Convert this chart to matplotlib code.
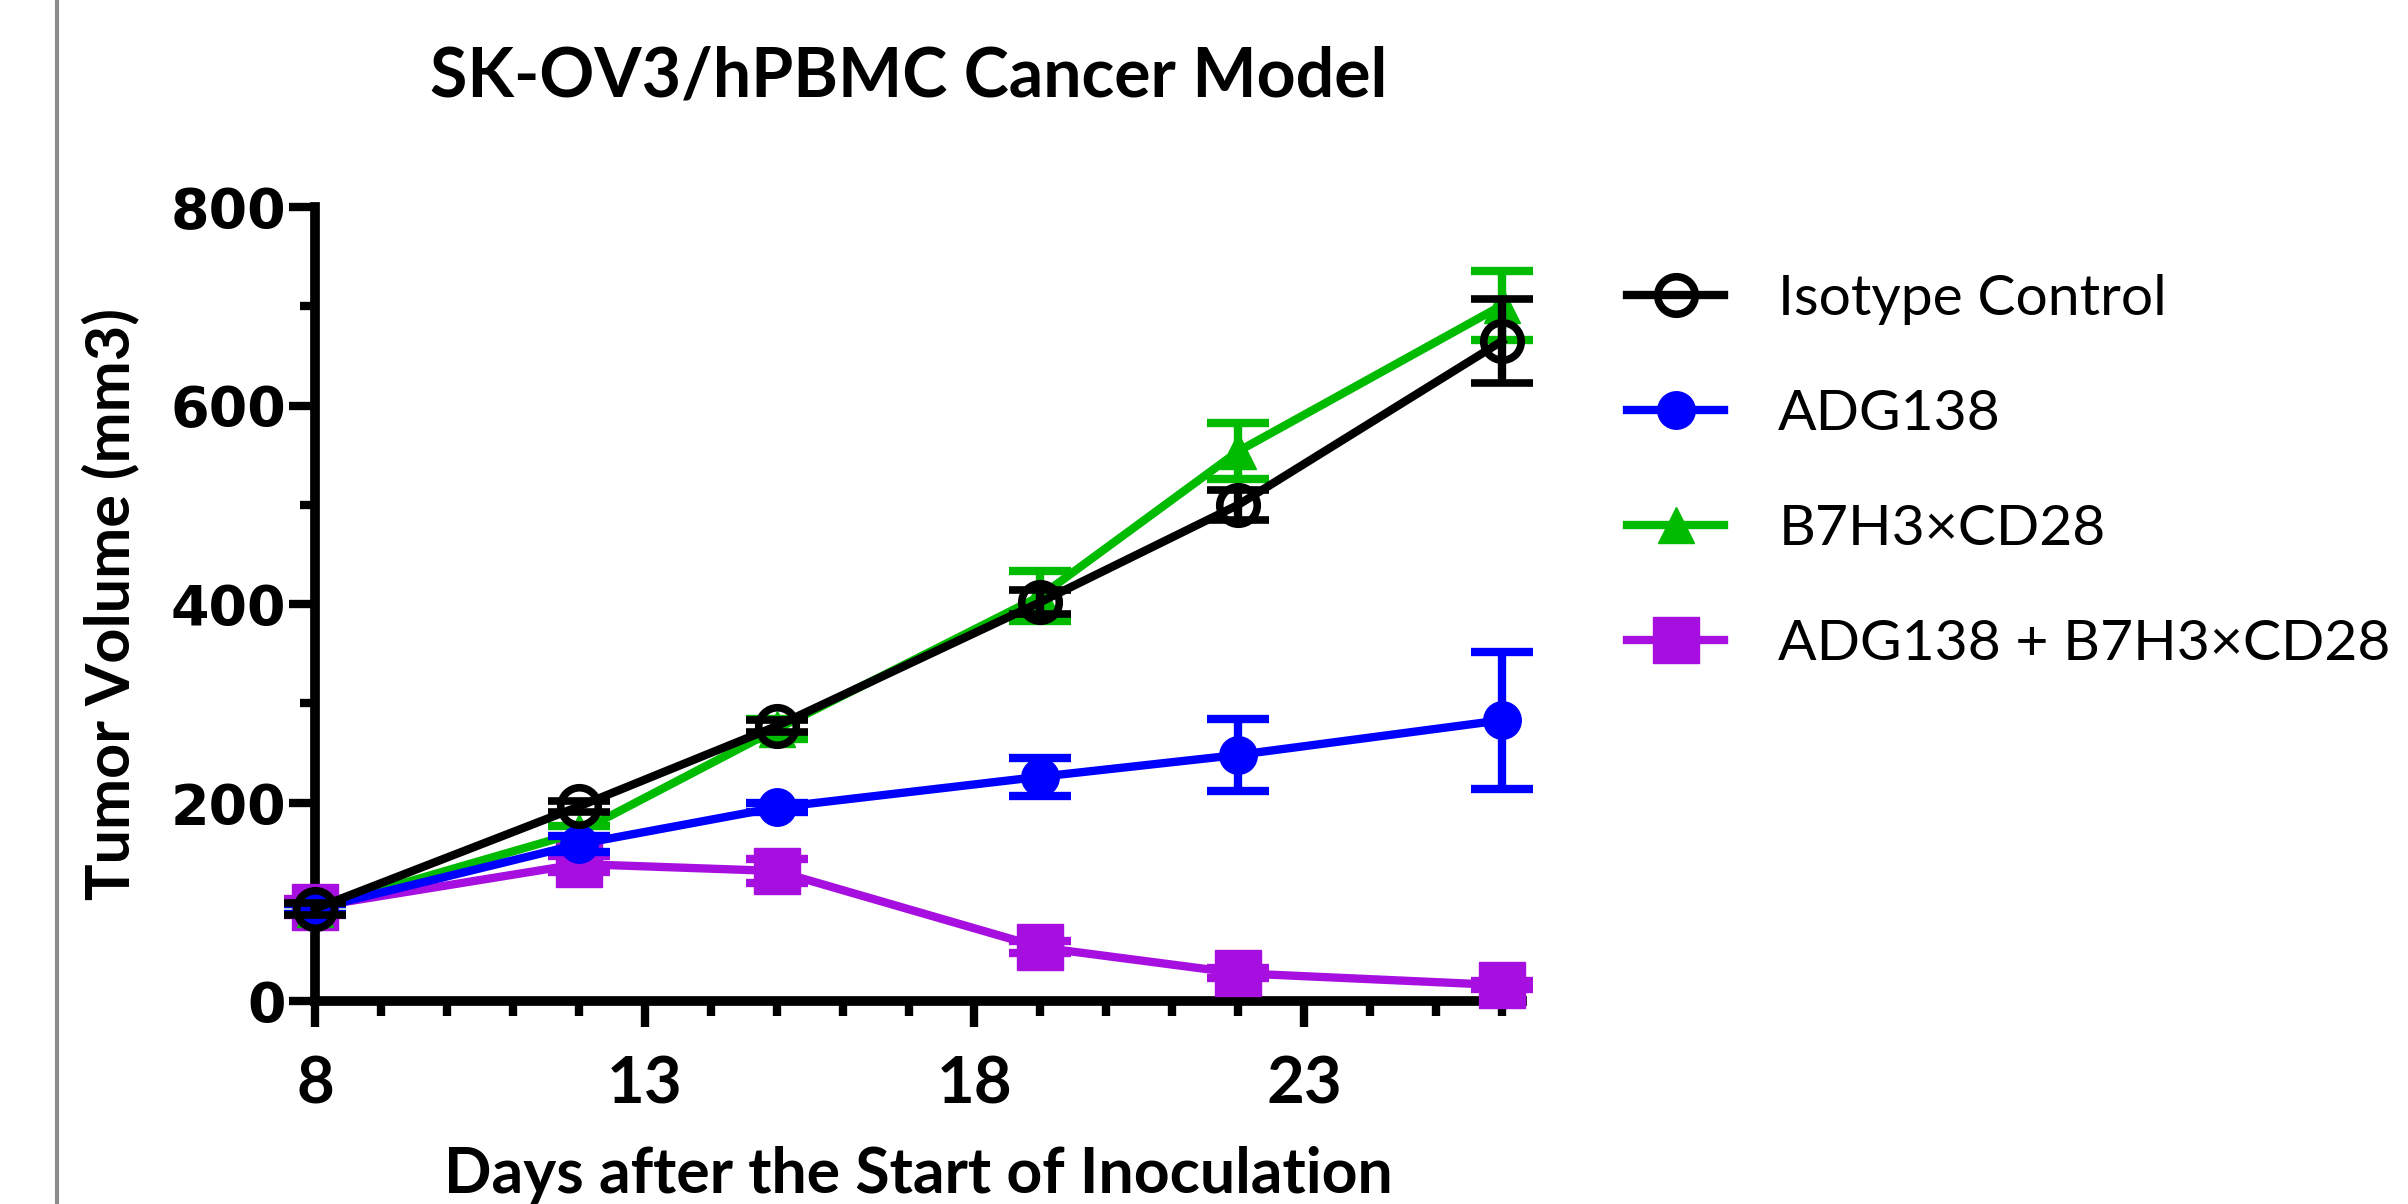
import matplotlib.pyplot as plt
from matplotlib.lines import Line2D
from matplotlib.ticker import MultipleLocator, FixedLocator

days = [8, 12, 15, 19, 22, 26]

isotype = [93, 196, 277, 402, 500, 665]
isotype_err = [6, 6, 6, 12, 15, 42]
adg138 = [93, 158, 195, 226, 248, 283]
adg138_err = [5, 8, 5, 19, 36, 69]
b7h3 = [93, 170, 274, 408, 554, 701]
b7h3_err = [5, 6, 10, 25, 28, 35]
combo = [95, 138, 131, 54, 28, 16]
combo_err = [8, 8, 12, 6, 5, 4]

x_ticks = [8, 13, 18, 23]
labels = ["Isotype Control", "ADG138", "B7H3\u00d7CD28", "ADG138 + B7H3\u00d7CD28"]

fig = plt.figure(figsize=(24.08, 12.04), dpi=100)
ax = fig.add_axes([0.1308, 0.1686, 0.632 - 0.1308, 0.828 - 0.1686])

lw = 6
common = dict(linewidth=lw, elinewidth=lw, capsize=22, capthick=lw, clip_on=False)

styles = [
    dict(color="black", marker="o", markersize=27, markerfacecolor="none", markeredgewidth=5.5),
    dict(color="#0000ff", marker="o", markersize=27),
    dict(color="#00bb00", marker="^", markersize=26),
    dict(color="#a60fdf", marker="s", markersize=33),
]

ax.errorbar(days, combo, yerr=combo_err, zorder=3, **styles[3], **common)
ax.errorbar(days, b7h3, yerr=b7h3_err, zorder=4, **styles[2], **common)
ax.errorbar(days, adg138, yerr=adg138_err, zorder=5, **styles[1], **common)
ax.errorbar(days, isotype, yerr=isotype_err, zorder=6, **styles[0], **common)

ax.set_xlim(8, 26.3)
ax.set_ylim(0, 800)
ax.xaxis.set_major_locator(FixedLocator(x_ticks))
ax.xaxis.set_minor_locator(MultipleLocator(1))
ax.yaxis.set_major_locator(MultipleLocator(200))
ax.yaxis.set_minor_locator(MultipleLocator(100))

for s in ["top", "right"]:
    ax.spines[s].set_visible(False)
for s in ["left", "bottom"]:
    ax.spines[s].set_linewidth(7)

ax.tick_params(which="major", length=19, width=6)
ax.tick_params(which="minor", length=11, width=6)
ax.tick_params(axis="x", which="major", pad=20)
ax.tick_params(axis="y", which="major", pad=2)

for t in ax.get_yticklabels():
    t.set_fontfamily("DejaVu Sans")
    t.set_fontweight("heavy")
    t.set_fontsize(40)
for t in ax.get_xticklabels():
    t.set_fontfamily("Lato")
    t.set_fontweight("bold")
    t.set_fontsize(47)

ax.set_xlabel("Days after the Start of Inoculation", fontfamily="Lato",
              fontweight="bold", fontsize=45, labelpad=23)
ax.set_ylabel("Tumor Volume (mm3)", fontfamily="Lato", fontweight="bold",
              fontsize=44, labelpad=22)
fig.text(0.3775, 0.936, "SK-OV3/hPBMC Cancer Model", fontfamily="Lato",
         fontweight="bold", fontsize=49, ha="center", va="center")

handles = [Line2D([], [], linewidth=lw, **st) for st in styles]
ax.legend(handles, labels, loc="upper left",
          bbox_to_anchor=(1.045, 0.98), frameon=False,
          prop={"family": "Lato", "size": 41}, labelspacing=1.12,
          handlelength=1.7, handletextpad=0.95)

# gray frame line on the left
fig.add_artist(Line2D([0.0237, 0.0237], [0, 1], color="#8c8c8c",
                      linewidth=3, transform=fig.transFigure))

fig.savefig("out.png", dpi=100)
